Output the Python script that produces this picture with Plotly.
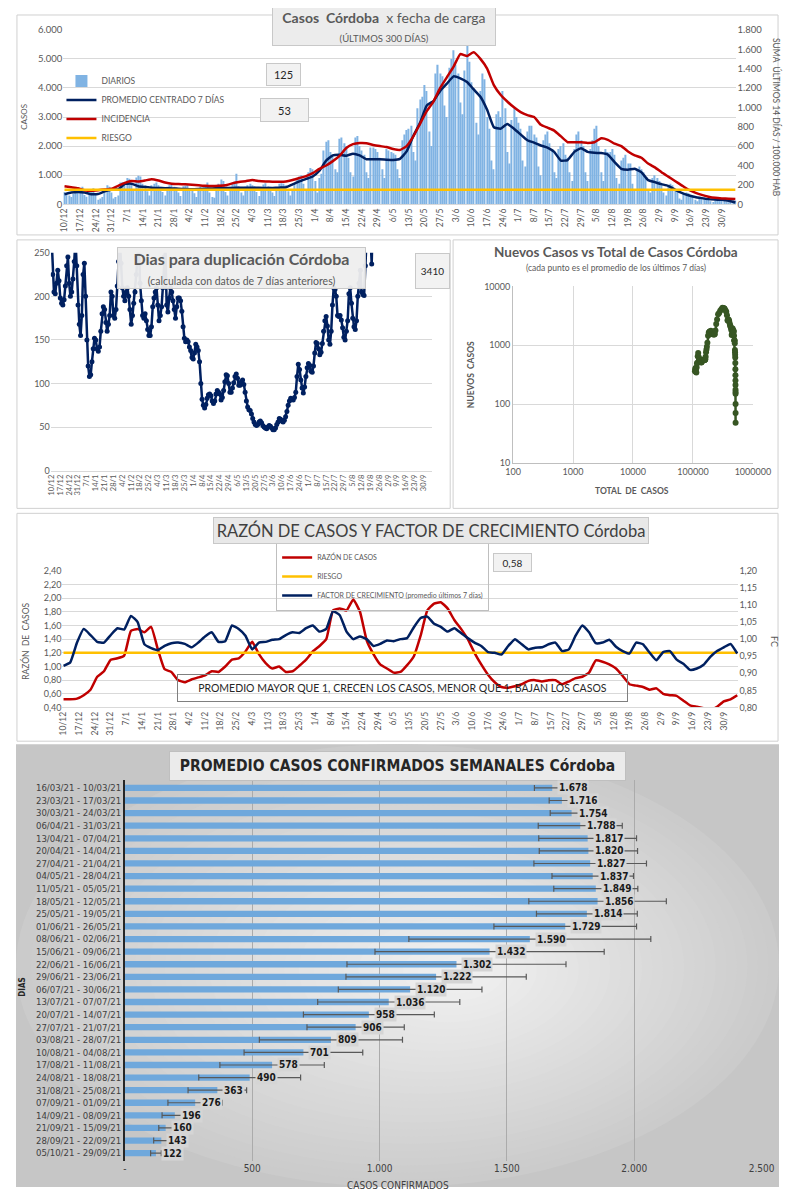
import pandas as pd
import plotly.graph_objects as go

# la pagina tiene 8px de margen en el body: la figura ocupa 789x1184
W, H = 789, 1184
OFF = 8


def px(x):
    return (x - OFF) / W


def py(y):
    return 1 - (y - OFF) / H


# ---------------- datos ----------------
inicio = "2020-12-10"
fin = "2021-10-06"

# casos diarios (filas = semanas, empiezan el jueves)
diarios = [
    420, 380, 300, 250, 350, 450, 480,
    450, 600, 320, 260, 400, 500, 550,
    350, 150, 200, 250, 480, 650, 600,
    400, 200, 250, 300, 750, 760, 700,
    900, 880, 700, 500, 920, 980, 950,
    700, 650, 450, 300, 650, 700, 750,
    650, 600, 420, 300, 600, 650, 680,
    600, 580, 400, 280, 620, 640, 650,
    560, 520, 380, 250, 550, 600, 580,
    600, 750, 400, 250, 220, 550, 700,
    850, 800, 420, 300, 600, 700, 780,
    1050, 620, 400, 300, 600, 650, 700,
    650, 620, 420, 280, 600, 680, 720,
    620, 600, 400, 280, 580, 700, 720,
    700, 650, 450, 300, 500, 700, 850,
    950, 1000, 700, 500, 1100, 1250, 1200,
    800, 400, 900, 1050, 1850, 2150, 2200,
    1800, 1700, 1200, 1100, 2250, 2300, 2100,
    2000, 1600, 1100, 950, 2300, 2350, 2000,
    1850, 1700, 1100, 900, 1950, 1950, 1900,
    1800, 1600, 1200, 900, 1900, 1850, 1800,
    1750, 1700, 1200, 900, 2200, 2400, 2550,
    2600, 2700, 1800, 1500, 3300, 3600, 3700,
    4100, 3900, 2500, 2000, 3500, 4500, 4800,
    4500, 4400, 3400, 3000, 4700, 5000, 5300,
    4800, 4500, 3500, 3100, 4600, 5450, 4900,
    4200, 4000, 2800, 2400, 3900, 4500, 4300,
    3000, 2600, 1500, 1200, 3100, 3200, 3000,
    3900, 3300, 1800, 1400, 2900, 3300, 3000,
    2800, 2600, 1500, 1300, 2500, 2700, 2700,
    2400, 2300, 1300, 1000, 2200, 2400, 2500,
    2100, 1900, 1100, 900, 1900, 2000, 2100,
    1700, 1600, 1100, 800, 1900, 2400, 2500,
    2200, 2000, 1100, 800, 1900, 2200, 2600,
    2700, 2000, 1100, 800, 1900, 1800, 1800,
    1900, 1700, 900, 700, 1500, 1600, 1700,
    1400, 1400, 700, 500, 1200, 1300, 1200,
    1100, 900, 500, 400, 900, 1000, 900,
    800, 700, 400, 300, 650, 700, 650,
    500, 450, 200, 150, 350, 400, 380,
    300, 260, 150, 100, 200, 250, 240,
    200, 180, 100, 80, 160, 180, 170,
    170, 150, 90, 70, 140, 150, 125,
]

# promedio centrado 7 dias (cada 3 dias)
promedio_7d = [
    340, 400, 420, 400, 345, 350, 440, 500, 510, 700,
    705, 620, 590, 570, 560, 550, 545, 530, 520, 511,
    520, 530, 545, 550, 555, 560, 570, 570, 568, 565,
    560, 560, 570, 580, 680, 784, 870, 954, 1150, 1500,
    1680, 1700, 1670, 1740, 1680, 1550, 1545, 1545, 1530, 1520,
    1560, 1818, 2350, 2800, 3400, 3550, 3900, 4150, 4400, 4330,
    4205, 3950, 3700, 3250, 2650, 2600, 2760, 2600, 2400, 2200,
    2120, 2020, 1950, 1800, 1500, 1520, 1800, 1930, 1800, 1770,
    1760, 1705, 1450, 1220, 1190, 1220, 1100, 830, 760, 690,
    630, 500, 390, 310, 250, 210, 175, 160, 150, 120,
    60,
]

# incidencia: suma ultimos 14 dias / 100.000 hab (cada 3 dias)
incidencia = [
    185, 175, 165, 145, 140, 145, 152, 160, 190, 220,
    240, 235, 245, 258, 245, 225, 212, 208, 205, 200,
    195, 190, 188, 190, 195, 215, 230, 238, 250, 240,
    235, 232, 232, 235, 250, 270, 290, 320, 365, 400,
    445, 500, 580, 620, 632, 630, 612, 600, 590, 570,
    560, 600, 700, 830, 960, 1060, 1200, 1310, 1420, 1550,
    1530, 1570, 1500, 1400, 1230, 1130, 1060, 1000, 950, 920,
    900, 820, 790, 760, 700, 640, 640, 640, 632, 640,
    680, 665, 625, 600, 545, 505, 480, 420, 380, 330,
    285, 240, 195, 150, 120, 96, 78, 66, 60, 56,
    53,
]
riesgo_incidencia = 150

# dias para duplicacion (diario)
duplicacion = [
    270, 225, 205, 203, 215, 230, 218, 198, 192, 190,
    196, 212, 235, 245, 215, 200, 205, 220, 240, 265,
    235, 190, 168, 155, 178, 225, 238, 200, 150, 120,
    108, 110, 125, 140, 152, 150, 140, 137, 142, 160,
    180, 188, 185, 170, 160, 168, 178, 205, 200, 178,
    175, 185, 212, 240, 265, 238, 210, 200, 195, 205,
    210, 200, 185, 168, 178, 192, 205, 225, 245, 265,
    215, 195, 178, 175, 180, 172, 162, 155, 155, 165,
    188, 198, 205, 210, 190, 172, 178, 188, 210, 245,
    260, 190, 182, 198, 210, 205, 195, 185, 175, 188,
    198, 198, 195, 183, 165, 152, 148, 150, 148, 142,
    138, 130, 128, 135, 145, 142, 138,
    125, 100, 82, 75, 72, 76, 83, 87, 88, 86,
    80, 77, 80, 88, 92, 90, 88, 81, 84, 92,
    102, 110, 109, 100, 90, 90, 95, 101, 108, 111,
    106, 98, 98, 102, 104, 99, 90, 80, 73, 70,
    69, 65, 60, 56, 53, 52, 53, 56, 57, 55,
    52, 50, 49, 48, 50, 52, 51, 49, 47, 47,
    49, 53, 56, 60, 59, 57, 56, 58, 62, 68,
    75, 80, 83, 82, 81, 84, 90, 108, 122, 116,
    104, 95, 89, 96, 108, 118, 123, 121, 114, 113,
    120, 135, 147, 146, 140, 133, 136, 146, 160, 172,
    177, 166, 150, 145, 160, 190, 210, 208, 200, 178,
    177, 178, 173, 164, 153, 150, 160, 172, 203, 210,
    192, 175, 165, 162, 172, 200, 215, 230, 205, 202,
    201, 235, 280, 300, 290, 270, 237, 300,
]

# nuevos casos vs total de casos
total_casos = [
    108000, 109200, 110500, 111700, 112800, 114000, 115300, 116800, 118300, 120300,
    122400, 124300, 126100, 127800, 129500, 131100, 132800, 134400, 136000, 137500,
    139100, 140700, 142300, 143900, 145600, 147300, 149000, 150700, 152400, 154100,
    155800, 157500, 159200, 160900, 162900, 165300, 167900, 170800, 174200, 178700,
    183700, 188800, 193800, 199000, 204000, 208700, 213300, 218000, 222600, 227200,
    231900, 237300, 244400, 252800, 263000, 273600, 285300, 297800, 311000, 324000,
    336600, 348500, 359600, 369300, 377300, 385100, 393400, 401200, 408400, 415000,
    421400, 427400, 433300, 438700, 443200, 447800, 453200, 459000, 464400, 469700,
    475000, 480100, 484500, 488200, 491800, 495500, 498800, 501300, 503600, 505700,
    507600, 509100, 510300, 511200, 512000, 512600, 513100, 513600, 514000, 514400,
    514500, 514600,
]
nuevos_casos = [
    360, 390, 410, 395, 350, 345, 420, 490, 505, 650,
    740, 640, 600, 575, 560, 550, 545, 530, 520, 510,
    515, 525, 540, 550, 555, 560, 565, 570, 568, 565,
    560, 560, 565, 575, 640, 760, 850, 940, 1100, 1450,
    1650, 1720, 1680, 1760, 1700, 1560, 1540, 1550, 1530, 1520,
    1550, 1780, 2300, 2750, 3350, 3550, 3850, 4100, 4350, 4300,
    4200, 3950, 3700, 3250, 2650, 2600, 2750, 2600, 2400, 2200,
    2120, 2020, 1950, 1800, 1500, 1520, 1780, 1920, 1800, 1770,
    1760, 1700, 1450, 1220, 1190, 1200, 1080, 830, 760, 690,
    620, 500, 390, 310, 250, 210, 175, 160, 150, 100,
    70, 48,
]

# razon de casos y factor de crecimiento (cada 3 dias)
razon = [
    0.52, 0.52, 0.53, 0.58, 0.66, 0.85, 0.93, 1.10, 1.12, 1.16,
    1.52, 1.55, 1.50, 1.58, 1.25, 0.96, 0.92, 0.80, 0.77, 0.81,
    0.84, 0.87, 0.93, 0.92, 1.00, 1.10, 1.12, 1.22, 1.36, 1.18,
    1.05, 0.97, 1.00, 0.92, 0.93, 1.01, 1.10, 1.22, 1.30, 1.40,
    1.82, 1.85, 1.82, 1.98, 1.80, 1.38, 1.18, 1.03, 0.97, 0.91,
    0.92, 1.02, 1.15, 1.45, 1.82, 1.92, 1.94, 1.85, 1.68, 1.55,
    1.40, 1.20, 1.03, 0.88, 0.77, 0.70, 0.69, 0.71, 0.74, 0.79,
    0.80, 0.78, 0.80, 0.80, 0.74, 0.78, 0.83, 0.85, 0.91, 1.09,
    1.07, 1.03, 0.97, 0.86, 0.74, 0.72, 0.70, 0.66, 0.68, 0.60,
    0.58, 0.57, 0.50, 0.43, 0.41, 0.39, 0.37, 0.41, 0.49, 0.52,
    0.58,
]
factor_crec = [
    0.922, 0.932, 0.990, 1.030, 1.012, 0.992, 0.990, 1.012, 1.032, 1.028,
    1.068, 1.050, 0.985, 0.974, 0.968, 0.980, 0.988, 0.990, 0.986, 0.976,
    0.990, 1.008, 1.020, 0.992, 0.994, 1.040, 1.030, 1.010, 0.970, 0.990,
    0.992, 0.998, 1.000, 1.012, 1.020, 1.018, 1.032, 1.040, 1.022, 1.030,
    1.082, 1.070, 1.022, 1.000, 1.008, 1.000, 0.980, 0.986, 0.996, 0.994,
    1.000, 1.003, 1.035, 1.062, 1.066, 1.045, 1.036, 1.022, 1.032, 1.018,
    1.003, 0.990, 0.980, 0.962, 0.960, 0.955, 0.980, 1.000, 0.985, 0.970,
    0.975, 0.976, 0.985, 0.990, 0.965, 0.970, 1.010, 1.040, 1.020, 0.988,
    0.990, 0.998, 0.978, 0.965, 0.958, 0.990, 0.985, 0.960, 0.938, 0.962,
    0.965, 0.940, 0.928, 0.910, 0.914, 0.925, 0.948, 0.965, 0.976, 0.986,
    0.958,
]
riesgo_razon = 1.2

# promedio semanal
semanas = [
    "16/03/21 - 10/03/21", "23/03/21 - 17/03/21", "30/03/21 - 24/03/21",
    "06/04/21 - 31/03/21", "13/04/21 - 07/04/21", "20/04/21 - 14/04/21",
    "27/04/21 - 21/04/21", "04/05/21 - 28/04/21", "11/05/21 - 05/05/21",
    "18/05/21 - 12/05/21", "25/05/21 - 19/05/21", "01/06/21 - 26/05/21",
    "08/06/21 - 02/06/21", "15/06/21 - 09/06/21", "22/06/21 - 16/06/21",
    "29/06/21 - 23/06/21", "06/07/21 - 30/06/21", "13/07/21 - 07/07/21",
    "20/07/21 - 14/07/21", "27/07/21 - 21/07/21", "03/08/21 - 28/07/21",
    "10/08/21 - 04/08/21", "17/08/21 - 11/08/21", "24/08/21 - 18/08/21",
    "31/08/21 - 25/08/21", "07/09/21 - 01/09/21", "14/09/21 - 08/09/21",
    "21/09/21 - 15/09/21", "28/09/21 - 22/09/21", "05/10/21 - 29/09/21",
]
prom_semanal = [
    1678, 1716, 1754, 1788, 1817, 1820, 1827, 1837, 1849, 1856,
    1814, 1729, 1590, 1432, 1302, 1222, 1120, 1036, 958, 906,
    809, 701, 578, 490, 363, 276, 196, 160, 143, 122,
]
desvio_semanal = [
    70, 50, 84, 165, 192, 193, 221, 160, 165, 270,
    198, 280, 475, 450, 430, 354, 282, 279, 257, 191,
    281, 233, 205, 200, 115, 107, 50, 27, 30, 21,
]

ultimo_diario = "125"
ultima_incidencia = "53"
dias_duplicacion = "3410"
ultima_razon = "0,58"

# ---------------- estilo ----------------
FUENTE = "Lato, 'Open Sans', sans-serif"
ANGOSTA = "'Liberation Sans Narrow', 'DejaVu Sans Condensed', Lato, sans-serif"
GRIS = "#595959"
GRILLA = "#d9d9d9"
AZUL = "#002060"
ROJO = "#c00000"
AMARILLO = "#ffc000"
CELESTE = "#6fa8dc"
DIA_MS = 86400000

fechas_diarias = pd.date_range(inicio, fin, freq="D")
fechas_3d = pd.date_range(inicio, fin, freq="3D")
fechas_dup = pd.date_range(inicio, periods=len(duplicacion), freq="D")

fig = go.Figure()

# ---- casos diarios ----
fig.add_trace(go.Bar(
    x=fechas_diarias, y=diarios, name="DIARIOS",
    marker=dict(color="#80b3e3", line=dict(width=0)),
    width=0.5 * DIA_MS, xaxis="x", yaxis="y",
))
fig.add_trace(go.Scatter(
    x=fechas_3d, y=promedio_7d, name="PROMEDIO CENTRADO 7 DÍAS", mode="lines",
    line=dict(color=AZUL, width=2.5, shape="spline", smoothing=0.4), xaxis="x", yaxis="y",
))
fig.add_trace(go.Scatter(
    x=fechas_3d, y=incidencia, name="INCIDENCIA", mode="lines",
    line=dict(color=ROJO, width=2.5, shape="spline", smoothing=0.4), xaxis="x", yaxis="y6",
))
fig.add_trace(go.Scatter(
    x=fechas_diarias, y=[riesgo_incidencia] * len(fechas_diarias), name="RIESGO", mode="lines",
    line=dict(color=AMARILLO, width=2.5), xaxis="x", yaxis="y6",
))

# ---- duplicacion ----
fig.add_trace(go.Scatter(
    x=fechas_dup, y=duplicacion, mode="lines+markers",
    line=dict(color=AZUL, width=2.5), marker=dict(size=5, color=AZUL),
    xaxis="x2", yaxis="y2", showlegend=False,
))

# ---- nuevos vs total ----
fig.add_trace(go.Scatter(
    x=total_casos, y=nuevos_casos, mode="lines+markers",
    line=dict(color="#375623", width=2.5), marker=dict(size=6, color="#375623"),
    xaxis="x3", yaxis="y3", showlegend=False,
))

# ---- razon / factor de crecimiento ----
fig.add_trace(go.Scatter(
    x=fechas_3d, y=razon, name="RAZÓN DE CASOS", mode="lines",
    line=dict(color=ROJO, width=2.5, shape="spline", smoothing=0.4),
    xaxis="x4", yaxis="y4", legend="legend2",
))
fig.add_trace(go.Scatter(
    x=fechas_diarias, y=[riesgo_razon] * len(fechas_diarias), name="RIESGO", mode="lines",
    line=dict(color=AMARILLO, width=2.5), xaxis="x4", yaxis="y4", legend="legend2",
))
fig.add_trace(go.Scatter(
    x=fechas_3d, y=factor_crec, name="FACTOR DE CRECIMIENTO (promedio últimos 7 días)",
    mode="lines", line=dict(color=AZUL, width=2.5, shape="spline", smoothing=0.4),
    xaxis="x4", yaxis="y7", legend="legend2",
))

# ---- promedio semanal ----
fig.add_trace(go.Bar(
    y=semanas, x=prom_semanal, orientation="h", marker=dict(color=CELESTE, line=dict(width=0)),
    error_x=dict(type="data", array=desvio_semanal, color="#595959", thickness=1.2, width=3),
    xaxis="x5", yaxis="y5", showlegend=False,
))


def eje_fechas(x0, x1, anchor, size):
    return dict(
        domain=[px(x0), px(x1)], anchor=anchor, type="date",
        range=["2020-12-09 12:00", "2021-10-06 12:00"],
        tick0=inicio, dtick=7 * DIA_MS, tickformat="%-d/%-m", tickangle=-90,
        tickfont=dict(size=size, color=GRIS), showgrid=False, showline=True,
        linecolor=GRILLA, ticks="",
    )


ejes = dict(
    xaxis=eje_fechas(57, 753, "y", 8.5),
    yaxis=dict(domain=[py(200), py(24)], anchor="x", range=[0, 6000], dtick=1000,
               tickformat=",", gridcolor=GRILLA, zeroline=False,
               tickfont=dict(size=9.5, color=GRIS)),
    yaxis6=dict(overlaying="y", side="right", anchor="x", range=[0, 1800], dtick=200,
                tickformat=",", showgrid=False, zeroline=False,
                tickfont=dict(size=9.5, color=GRIS)),
    xaxis2=eje_fechas(44, 438, "y2", 7.5),
    yaxis2=dict(domain=[py(469), py(249)], anchor="x2", range=[0, 250], dtick=50,
                gridcolor=GRILLA, zeroline=False, tickfont=dict(size=9, color=GRIS)),
    xaxis3=dict(domain=[px(522), px(770)], anchor="y3", type="log", range=[2, 6], dtick=1,
                tickformat="d", gridcolor=GRILLA, showline=True, linecolor="#bfbfbf",
                zeroline=False, tickfont=dict(size=9, color=GRIS)),
    yaxis3=dict(domain=[py(461), py(283)], anchor="x3", type="log", range=[1, 4], dtick=1,
                tickformat="d", gridcolor=GRILLA, showline=True, linecolor="#bfbfbf",
                zeroline=False, tickfont=dict(size=9, color=GRIS)),
    xaxis4=eje_fechas(56, 755, "y4", 8.5),
    yaxis4=dict(domain=[py(708), py(570)], anchor="x4", range=[0.4, 2.4], dtick=0.2,
                tickformat=".2f", gridcolor=GRILLA, zeroline=False,
                tickfont=dict(size=9, color=GRIS)),
    yaxis7=dict(overlaying="y4", side="right", anchor="x4", range=[0.8, 1.2], dtick=0.05,
                tickformat=".2f", showgrid=False, zeroline=False,
                tickfont=dict(size=9, color=GRIS)),
    xaxis5=dict(domain=[px(120.6), px(779)], anchor="y5", range=[0, 2500],
                tickvals=[0, 500, 1000, 1500, 2000, 2500],
                ticktext=["-", "500", "1.000", "1.500", "2.000", "2.500"],
                gridcolor="#ababab", gridwidth=1, zeroline=False,
                tickfont=dict(size=10, color="#404040", family=ANGOSTA)),
    yaxis5=dict(domain=[py(1165.4), py(781.6)], anchor="x5", type="category",
                autorange="reversed", dtick=1, showline=True, linecolor="#262626",
                linewidth=1.5, ticks="", tickfont=dict(size=9.5, color="#404040", family=ANGOSTA)),
)


def caja(x, y, w, h, text, size, color=GRIS, bg="#ececec", borde="#c8c8c8", fam=FUENTE):
    return dict(x=px(x), y=py(y), xref="paper", yref="paper", xanchor="center",
                yanchor="middle", width=w, height=h, text=text, showarrow=False,
                bgcolor=bg, bordercolor=borde, borderwidth=1, borderpad=0,
                font=dict(size=size, color=color, family=fam))


def texto(x, y, text, size, angle=0, color=GRIS, fam=FUENTE):
    return dict(x=px(x), y=py(y), xref="paper", yref="paper", xanchor="center",
                yanchor="middle", text=text, showarrow=False, textangle=angle,
                font=dict(size=size, color=color, family=fam))


anotaciones = [
    # casos diarios
    caja(388.5, 21, 222, 37,
         "<b>Casos  Córdoba</b>  x fecha de carga<br><span style='font-size:9.5px'>(ÚLTIMOS 300 DÍAS)</span>",
         14),
    caja(285, 69, 33, 21, ultimo_diario, 11, color="#262626", bg="#f2f2f2"),
    caja(286, 104.5, 47, 22, ultima_incidencia, 11, color="#262626", bg="#f2f2f2"),
    texto(16, 112, "CASOS", 8, -90),
    texto(795, 112, "SUMA  ÚLTIMOS 14 DÍAS / 100.000 HAB", 8.5, 90),
    # duplicacion
    caja(241, 264.5, 247, 40,
         "<b>Dias para duplicación Córdoba</b><br><span style='font-size:10.5px'>(calculada con datos de 7 días anteriores)</span>",
         16, bg="rgba(238,238,238,0.95)"),
    caja(438.5, 267, 33, 34, dias_duplicacion, 10, color="#262626", bg="#f2f2f2"),
    # nuevos vs total
    texto(628, 248, "<b>Nuevos Casos vs Total de Casos Córdoba</b>", 13.5),
    texto(628, 264.5, "(cada punto es el promedio de los últimos 7 días)", 8.5),
    texto(478, 372, "<b>NUEVOS  CASOS</b>", 8.5, -90),
    texto(645, 489, "<b>TOTAL  DE  CASOS</b>", 8.5),
    # razon
    caja(437.5, 529.5, 434, 25, "RAZÓN DE CASOS Y FACTOR DE CRECIMIENTO Córdoba", 16.5,
         color="#404040", bg="#e8e8e8"),
    caja(521.5, 561.5, 37, 17, ultima_razon, 10, color="#262626", bg="#f2f2f2"),
    caja(408, 688.5, 449, 26, "PROMEDIO MAYOR QUE 1, CRECEN LOS CASOS, MENOR QUE 1, BAJAN LOS CASOS",
         10.5, color="#262626", bg="rgba(0,0,0,0)", borde="#7f7f7f"),
    texto(17, 641, "RAZÓN  DE  CASOS", 8.5, -90),
    texto(793, 641, "FC", 9, 90),
    # promedio semanal
    caja(403, 767, 455, 28, "<b>PROMEDIO CASOS CONFIRMADOS SEMANALES Córdoba</b>", 15.5,
         color="#262626", bg="#ebebeb", borde="#bfbfbf", fam=ANGOSTA),
    texto(15, 990, "<b>DIAS</b>", 8, -90, color="#262626", fam=ANGOSTA),
    texto(403, 1190, "CASOS CONFIRMADOS", 10, color="#404040", fam=ANGOSTA),
]

for semana, valor in zip(semanas, prom_semanal):
    anotaciones.append(dict(
        x=valor, y=semana, xref="x5", yref="y5", xanchor="left", yanchor="middle",
        xshift=5, text="<b>" + f"{valor:,}".replace(",", ".") + "</b>", showarrow=False,
        bgcolor="#d5d5d5", borderpad=1,
        font=dict(size=10, color="#1a1a1a", family=ANGOSTA),
    ))

# fondo degradado del panel inferior y bordes de paneles
formas = [dict(type="rect", xref="paper", yref="paper", x0=0, x1=1, y0=0, y1=py(745),
               fillcolor="#c6c6c6", line=dict(width=0), layer="below")]
pasos = 30
for i in range(pasos):
    f = 1 - i / pasos
    g = int(0xca + (0xf1 - 0xca) * (i + 1) / pasos)
    formas.append(dict(type="circle", xref="paper", yref="paper",
                       x0=px(470 - 462 * f), x1=px(470 + 327 * f),
                       y0=py(975 + 217 * f), y1=py(975 - 230 * f),
                       fillcolor=f"rgb({g},{g},{g})", line=dict(width=0), layer="below"))
for (x0, y0, x1, y1) in [(9, 9, 796, 231), (9, 236, 457, 507), (460, 236, 796, 507),
                         (9, 512, 796, 742)]:
    formas.append(dict(type="rect", xref="paper", yref="paper", x0=px(x0), x1=px(x1),
                       y0=py(y1), y1=py(y0), line=dict(color="#d0d0d0", width=1),
                       layer="below"))

fig.update_layout(
    width=W, height=H, autosize=False, margin=dict(l=0, r=0, t=0, b=0),
    paper_bgcolor="white", plot_bgcolor="rgba(0,0,0,0)",
    separators=",.", font=dict(family=FUENTE, color=GRIS),
    bargap=0.5, showlegend=True,
    legend=dict(x=px(55), y=py(61), xanchor="left", yanchor="top", bgcolor="rgba(0,0,0,0)",
                font=dict(size=8.5, color=GRIS), tracegroupgap=0),
    legend2=dict(x=px(277), y=py(541), xanchor="left", yanchor="top",
                 bgcolor="rgba(255,255,255,0)", bordercolor="#bfbfbf", borderwidth=1,
                 font=dict(size=7, color=GRIS)),
    annotations=anotaciones, shapes=formas,
    **ejes,
)

fig.write_html("out.html", config={"displayModeBar": False, "responsive": False})
